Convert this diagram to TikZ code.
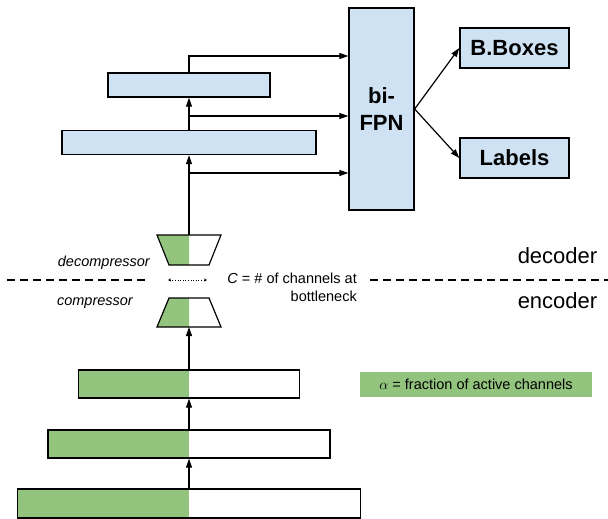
\documentclass[tikz,border=0pt]{standalone}
\usepackage{fontspec}
\setmainfont{Liberation Sans}
\usetikzlibrary{arrows.meta}
\definecolor{lblue}{HTML}{CFE2F3}
\definecolor{lgreen}{HTML}{93C47D}
\tikzset{
  bluebox/.style={draw=black, fill=lblue, line width=1.3pt, inner sep=0pt},
  halfbox/.style={draw=black, fill=white, line width=1.3pt, inner sep=0pt,
    path picture={\fill[lgreen] (path picture bounding box.south west) rectangle (path picture bounding box.north);}},
  arr/.style={line width=1.2pt, -{Triangle[length=9pt,width=6pt]}},
  ln/.style={line width=1.2pt},
  sep/.style={line width=1.2pt, dash pattern=on 8pt off 5pt},
  bold/.style={font=\fontsize{22}{27}\selectfont\bfseries},
  small/.style={font=\fontsize{14.5}{18}\selectfont},
  big/.style={font=\fontsize{22}{26}\selectfont},
}
\begin{document}
\begin{tikzpicture}[x=1pt,y=-1pt]
\useasboundingbox (0,0) rectangle (608,519);
% FPN side
\node[bluebox, minimum width=162pt, minimum height=24pt] (p2) at (189,85) {};
\node[bluebox, minimum width=254pt, minimum height=24pt] (p1) at (189,142.5) {};
\node[bluebox, minimum width=65pt, minimum height=202pt, bold, align=center] (fpn) at (381.5,109) {bi-\\FPN};
\node[bluebox, minimum width=109pt, minimum height=40pt, bold] (bb) at (514.5,48) {B.Boxes};
\node[bluebox, minimum width=109pt, minimum height=40pt, bold] (lab) at (514.5,158) {Labels};
% encoder boxes
\node[halfbox, minimum width=221pt, minimum height=28pt] (e1) at (189,384) {};
\node[halfbox, minimum width=282pt, minimum height=28pt] (e2) at (189,444) {};
\node[halfbox, minimum width=343pt, minimum height=29pt] (e3) at (189,503.5) {};
% legend
\node[fill=lgreen, minimum width=232pt, minimum height=25pt, small] (leg) at (476,384.5) {$\alpha$ = fraction of active channels};
% decompressor / compressor
\coordinate (dtop) at (189,235);
\coordinate (cbot) at (189,327);
\fill[lgreen] (157,235) -- (189,235) -- (189,265) -- (169,265) -- cycle;
\draw[ln, line join=miter] (157,235) -- (221,235) -- (209,265) -- (169,265) -- cycle;
\fill[lgreen] (169,298) -- (189,298) -- (189,327) -- (157,327) -- cycle;
\draw[ln, line join=miter] (169,298) -- (209,298) -- (221,327) -- (157,327) -- cycle;
% backbone arrows
\draw[arr] (e3.north) -- (e2.south);
\draw[arr] (e2.north) -- (e1.south);
\draw[arr] (e1.north) -- (cbot);
\draw[arr] (dtop) -- (p1.south);
\draw[arr] (p1.north) -- (p2.south);
\coordinate (y1) at (0,56);
\coordinate (b1) at (189,116);
\coordinate (b2) at (189,173);
\draw[arr] (p2.north) |- (fpn.west |- y1);
\draw[arr] (b1) -- (fpn.west |- b1);
\draw[arr] (b2) -- (fpn.west |- b2);
\draw[arr] (fpn.east) -- (bb.west);
\draw[arr] (fpn.east) -- (lab.west);
% separator
\coordinate (s1) at (7,280);
\coordinate (s2) at (148,280);
\coordinate (s3) at (370,280);
\coordinate (s4) at (608,280);
\draw[sep] (s1) -- (s2);
\draw[sep] (s3) -- (s4);
\coordinate (da) at (168,280);
\coordinate (db) at (207,280);
\draw[line width=0.6pt, dotted, {Stealth[length=3pt,width=3pt]}-{Stealth[length=3pt,width=3pt]}] (da) -- (db);
% labels
\node[small, font=\fontsize{14.5}{18}\selectfont\itshape, anchor=east, inner sep=0pt] (dl) at (150,263) {decompressor};
\node[small, font=\fontsize{14.5}{18}\selectfont\itshape, anchor=east, inner sep=0pt] (cl) at (133,303) {compressor};
\node[small, align=right, anchor=east, inner sep=0pt] (cn) at (357,287) {\textit{C} = \# of channels at\\bottleneck};
\node[big, inner sep=0pt] (dec) at (557.5,256) {decoder};
\node[big, inner sep=0pt] (enc) at (557.5,301) {encoder};
\end{tikzpicture}
\end{document}
